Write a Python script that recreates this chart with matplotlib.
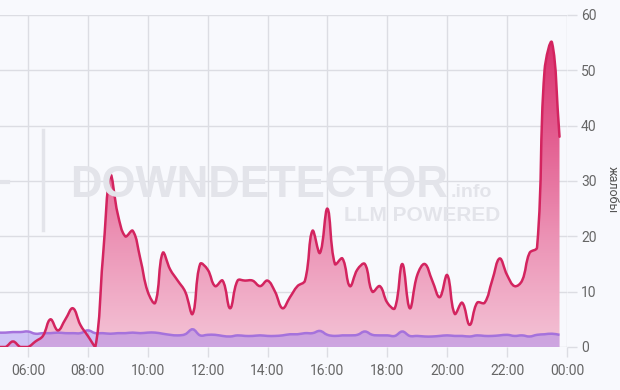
import numpy as np
import matplotlib
matplotlib.use("Agg")
import matplotlib.pyplot as plt
from matplotlib.path import Path
from matplotlib.patches import PathPatch
from matplotlib.colors import LinearSegmentedColormap

plt.rcParams['font.family'] = ['Roboto', 'DejaVu Sans']

# ---- data (15-minute samples starting 05:00) ----
start_hour = 5.0
step_hours = 0.25
reports = [
    0, 0, 1, 0,        # 05
    0, 1, 2, 5,        # 06
    3, 5, 7, 4,        # 07
    2, 0, 16, 31,      # 08
    24, 20, 21, 16,    # 09
    10, 8, 17, 14,     # 10
    12, 10, 6, 15,     # 11
    14, 11, 12, 7,     # 12
    12, 12, 12, 11,    # 13
    12, 10, 7, 9,      # 14
    11, 12, 21, 17,    # 15
    25, 15, 16, 11,    # 16
    14, 15, 10, 11,    # 17
    8, 7, 15, 7,       # 18
    13, 15, 12, 9,     # 19
    13, 6, 8, 4,       # 20
    8, 8, 12, 16,      # 21
    13, 11, 12, 17,    # 22
    18, 50, 55, 38,    # 23
]
baseline = [
    2.6, 2.6, 2.7, 2.7,
    2.8, 2.4, 2.5, 2.5,
    2.6, 2.5, 2.5, 2.5,
    3.0, 2.5, 2.5, 2.4,
    2.5, 2.5, 2.6, 2.5,
    2.6, 2.6, 2.4, 2.2,
    2.1, 2.3, 3.2, 2.1,
    2.2, 2.2, 2.0, 1.9,
    2.1, 2.0, 2.0, 2.1,
    2.0, 2.0, 2.1, 2.3,
    2.3, 2.5, 2.5, 2.9,
    2.2, 2.0, 2.1, 2.1,
    2.2, 2.8, 2.2, 2.1,
    2.1, 2.0, 2.8, 2.0,
    2.0, 1.9, 1.9, 2.0,
    2.1, 2.0, 2.0, 1.9,
    2.1, 2.0, 2.0, 2.1,
    2.2, 2.0, 2.1, 1.9,
    2.2, 2.3, 2.4, 2.2,
]
hours = start_hour + step_hours * np.arange(len(reports))
xtick_hours = [6, 8, 10, 12, 14, 16, 18, 20, 22, 24]
xtick_labels = ["06:00", "08:00", "10:00", "12:00", "14:00", "16:00",
                "18:00", "20:00", "22:00", "00:00"]
ytick_values = [0, 10, 20, 30, 40, 50, 60]
ylabel = "жалобы"

W, H = 620, 390
fig = plt.figure(figsize=(W / 100, H / 100), dpi=100)
fig.patch.set_facecolor("#f8f9fd")

ax_left_px, ax_right_px, ax_top_px, ax_bot_px = 0, 567, 15, 347
ax = fig.add_axes([ax_left_px / W, 1 - ax_bot_px / H,
                   (ax_right_px - ax_left_px) / W, (ax_bot_px - ax_top_px) / H])
ax.set_facecolor("#f8f9fd")
x0 = 6 - 28 / 30
ax.set_xlim(x0, 24)
ax.set_ylim(0, 60)

# pixel scale for smoothing
sx = (ax_right_px - ax_left_px) / (24 - x0)
sy = (ax_bot_px - ax_top_px) / 60.0


def smooth_path_vertices(xs, ys, tension=0.4):
    xs = np.asarray(xs, float); ys = np.asarray(ys, float)
    px = xs * sx; py = ys * sy
    n = len(xs)
    cps_prev = []; cps_next = []
    for i in range(n):
        p0 = (px[max(i - 1, 0)], py[max(i - 1, 0)])
        p1 = (px[i], py[i])
        p2 = (px[min(i + 1, n - 1)], py[min(i + 1, n - 1)])
        d01 = np.hypot(p1[0] - p0[0], p1[1] - p0[1])
        d12 = np.hypot(p2[0] - p1[0], p2[1] - p1[1])
        tot = d01 + d12
        s01 = d01 / tot if tot else 0
        s12 = d12 / tot if tot else 0
        fa = tension * s01; fb = tension * s12
        cp_prev = (p1[0] - fa * (p2[0] - p0[0]), p1[1] - fa * (p2[1] - p0[1]))
        cp_next = (p1[0] + fb * (p2[0] - p0[0]), p1[1] + fb * (p2[1] - p0[1]))
        cps_prev.append(cp_prev); cps_next.append(cp_next)
    verts = [(xs[0], ys[0])]
    codes = [Path.MOVETO]
    for i in range(n - 1):
        c1 = cps_next[i]; c2 = cps_prev[i + 1]
        c1 = (c1[0] / sx, min(max(c1[1] / sy, 0), 60))
        c2 = (c2[0] / sx, min(max(c2[1] / sy, 0), 60))
        verts += [c1, c2, (xs[i + 1], ys[i + 1])]
        codes += [Path.CURVE4] * 3
    return verts, codes


grid_c = "#dcdde3"
for yv in ytick_values:
    ax.axhline(yv, color=grid_c, lw=1, zorder=1)
for xv in xtick_hours:
    ax.axvline(xv, color=grid_c, lw=1, zorder=1)

# watermark
wm_c = "#e3e4ea"
wm_font = ["Liberation Sans", "DejaVu Sans"]
fig.text(70 / W, 1 - 197 / H, "DOWNDETECTOR", fontsize=31.5, fontweight="bold",
         color=wm_c, ha="left", va="baseline", family=wm_font)
fig.text(451 / W, 1 - 197 / H, ".info", fontsize=14, fontweight="bold",
         color=wm_c, ha="left", va="baseline", family=wm_font)
fig.text(500 / W, 1 - 221 / H, "LLM POWERED", fontsize=15, fontweight="bold",
         color=wm_c, ha="right", va="baseline", family=wm_font)
fig.add_artist(plt.Line2D([43 / W, 43 / W], [1 - 130 / H, 1 - 230 / H],
                          color=wm_c, lw=2.5))
fig.add_artist(plt.Line2D([0, 8 / W], [1 - 182 / H, 1 - 182 / H],
                          color=wm_c, lw=3))

# pink series
verts, codes = smooth_path_vertices(hours, reports)
fill_verts = verts + [(hours[-1], 0), (hours[0], 0), (hours[0], reports[0])]
fill_codes = codes + [Path.LINETO, Path.LINETO, Path.CLOSEPOLY]
pink_patch = PathPatch(Path(fill_verts, fill_codes), facecolor="none",
                       edgecolor="none", transform=ax.transData)
ax.add_patch(pink_patch)
cmap = LinearSegmentedColormap.from_list(
    "pk", ["#f4c3d6", "#ec94b6", "#e35c8f", "#d82a68"])
grad = np.linspace(0, 1, 256).reshape(-1, 1)
im = ax.imshow(grad, cmap=cmap, origin="lower", aspect="auto",
               extent=[x0, 24, 0, 58], zorder=2, interpolation="bilinear")
im.set_clip_path(pink_patch)
ax.set_xlim(x0, 24); ax.set_ylim(0, 60)

# purple baseline
bverts, bcodes = smooth_path_vertices(hours, baseline)
bfill_verts = bverts + [(hours[-1], 0), (hours[0], 0), (hours[0], baseline[0])]
bfill_codes = bcodes + [Path.LINETO, Path.LINETO, Path.CLOSEPOLY]
ax.add_patch(PathPatch(Path(bfill_verts, bfill_codes), facecolor="#9f82ee",
                       alpha=0.45, edgecolor="none", zorder=3))
ax.add_patch(PathPatch(Path(bverts, bcodes), facecolor="none",
                       edgecolor="#a572dc", lw=1.8, zorder=4))

# pink line
ax.add_patch(PathPatch(Path(verts, codes), facecolor="none",
                       edgecolor="#d3245f", lw=1.8, zorder=5,
                       capstyle="round", joinstyle="round"))

for s in ax.spines.values():
    s.set_visible(False)
ax.yaxis.tick_right()
ax.set_yticks(ytick_values)
ax.set_yticklabels([str(v) for v in ytick_values])
ax.set_xticks(xtick_hours)
ax.set_xticklabels(xtick_labels)
ax.tick_params(axis="both", colors=grid_c, labelcolor="#666666",
               labelsize=10, length=7, width=1)
ax.tick_params(axis="y", pad=3)
ax.tick_params(axis="x", pad=5)
fig.text(612 / W, 1 - 190 / H, ylabel, rotation=270, fontsize=9,
         color="#555555", ha="center", va="center")

fig.savefig("out.png", dpi=100, facecolor=fig.get_facecolor())
